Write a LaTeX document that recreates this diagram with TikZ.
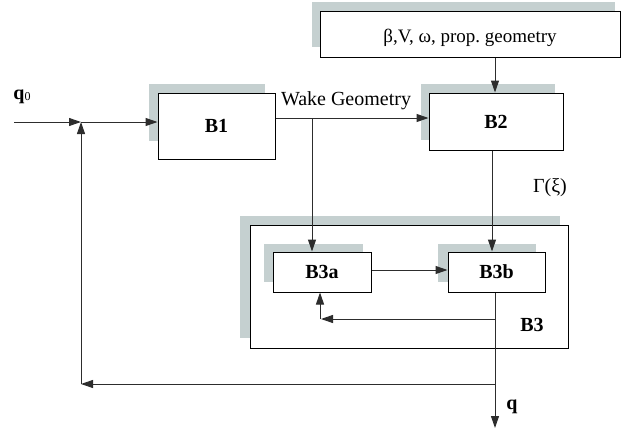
\documentclass[tikz,border=0pt]{standalone}
\usepackage{fontspec}
\setmainfont{Liberation Serif}
\usetikzlibrary{arrows.meta,calc}
\definecolor{shadowgray}{RGB}{197,208,208}
\definecolor{linegray}{RGB}{45,45,45}
\tikzset{
  blk/.style={draw=black, line width=1pt, fill=white, inner sep=0pt, font=\fontsize{20}{22}\selectfont\bfseries},
  shade/.style={fill=shadowgray, draw=none},
  arr/.style={draw=linegray, line width=1pt, -{Triangle[length=12pt,width=8pt]}},
  lbl/.style={inner sep=0pt, font=\fontsize{20}{22}\selectfont},
}
\begin{document}
\begin{tikzpicture}[x=1pt,y=-1pt]
\useasboundingbox (0,0) rectangle (622,429);

% shadows behind the blocks
\fill[shade] (312,2) rectangle (615,47);
\fill[shade] (149,84) rectangle (265,141);
\fill[shade] (421,84) rectangle (555,140);
\fill[shade] (240,216) rectangle (560,338);

% outer block B3
\node[blk, minimum width=318pt, minimum height=123pt] (b3) at (409,286.5) {};
\node[lbl, font=\fontsize{20}{22}\selectfont\bfseries] (b3lab) at (532,325) {B3};

% inner shadows
\fill[shade] (264,244) rectangle (363,282);
\fill[shade] (438,244) rectangle (536,282);

% blocks
\node[blk, minimum width=300pt, minimum height=46pt] (top) at (470,34) {};
\node[lbl, font=\fontsize{19}{21}\selectfont] (toplab) at (470,38) {β,V, ω, prop.\ geometry};
\node[blk, minimum width=117pt, minimum height=66pt] (b1) at (216.5,126) {B1};
\node[blk, minimum width=134pt, minimum height=57pt] (b2) at (496,121.5) {B2};
\node[blk, minimum width=98pt, minimum height=40pt] (b3a) at (322,272) {B3a};
\node[blk, minimum width=97pt, minimum height=40pt] (b3b) at (496.5,272) {B3b};

% junction points of the connectors
\coordinate (qin) at (14,122);
\coordinate (j) at (81,122);
\coordinate (wk) at (312,118);
\coordinate (ab) at ([yshift=2pt]b3a.east);
\coordinate (fbi) at (495,319);
\coordinate (fbe) at (321,319);
\coordinate (fbo) at (495,384);
\coordinate (fbc) at (81,384);
\coordinate (qout) at (495,428);

% input and outer feedback
\draw[arr] (qin) -- (j);
\draw[arr] (j) -- (b1.west |- j);
\draw[arr] (fbc) -- (j);
\draw[arr] (fbo) -- (fbc);

% wake geometry path
\draw[arr] (b1.east |- wk) -- (b2.west |- wk);
\draw[arr] (wk) -- (wk |- b3a.north);

% parameters into B2, B2 into B3b
\draw[arr] ([xshift=25pt]top.south) -- ([xshift=25pt]top.south |- b2.north);
\draw[arr] ([xshift=-4pt]b2.south) -- ([xshift=-4pt]b2.south |- b3b.north);

% inside B3
\draw[arr] (ab) -- (b3b.west |- ab);
\draw[arr] (b3b.south -| fbi) -- (qout);
\draw[arr] (fbi) -- (fbe);
\draw[arr] ([xshift=-2pt]b3a.south |- fbe) -- ([xshift=-2pt]b3a.south);

% labels
\node[lbl] (q0) at (22,97) {\textbf{q}\raisebox{-1pt}{\fontsize{12}{12}\selectfont 0}};
\node[lbl] (wake) at (346,101) {Wake Geometry};
\node[lbl] (gam) at (550,188) {Γ(ξ)};
\node[lbl, font=\fontsize{20}{22}\selectfont\bfseries] (q) at (512,407) {q};
\end{tikzpicture}
\end{document}
